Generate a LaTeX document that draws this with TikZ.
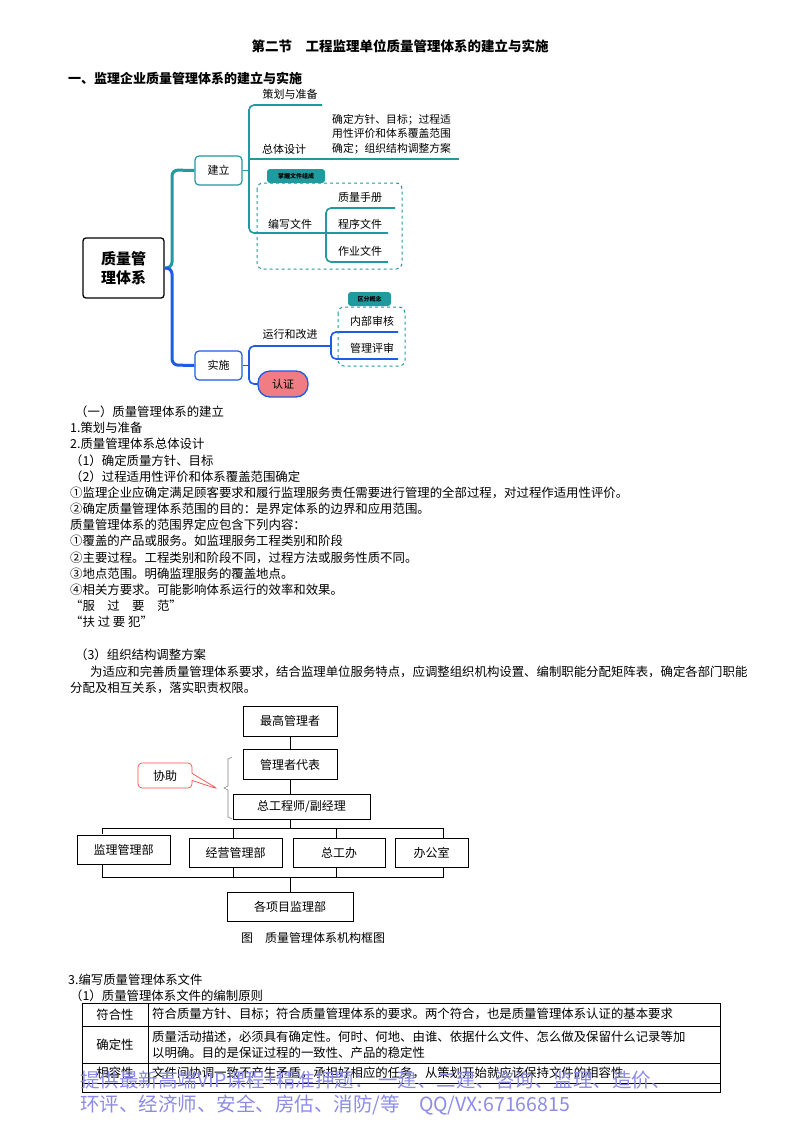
\documentclass[tikz,border=0pt]{standalone}
\usepackage{fontspec}
\setmainfont{Noto Sans CJK SC}
\usetikzlibrary{shapes.callouts,decorations.pathreplacing}
\definecolor{teal1}{HTML}{1F9A9F}
\definecolor{blue1}{HTML}{1E5BE6}
\definecolor{redf}{HTML}{F07C84}
\definecolor{wm}{HTML}{8C8CE6}
\tikzset{
 body/.style={anchor=west,inner sep=0,font=\fontsize{12.4}{14}\selectfont},
 mm/.style={inner sep=0,font=\fontsize{11}{13}\selectfont},
 tl/.style={line width=1.6pt,teal1},
 bl/.style={line width=1.6pt,blue1},
 obox/.style={draw,line width=0.6pt,minimum width=94pt,minimum height=30pt,font=\fontsize{12}{14}\selectfont},
 ol/.style={line width=0.9pt},
 tab/.style={fill=teal1,rounded corners=3pt,inner sep=2pt,font=\fontsize{6}{7}\selectfont\bfseries},
 dbox/.style={draw=teal1,dashed,line width=1pt,rounded corners=6pt},
}
\begin{document}
\begin{tikzpicture}[x=1pt,y=-1pt]
\useasboundingbox (0,0) rectangle (800,1132);
\fill[white] (0,0) rectangle (800,1132);
% titles
\node[inner sep=0,font=\fontsize{13.5}{15}\selectfont\bfseries] (title) at (400,46) {第二节\quad 工程监理单位质量管理体系的建立与实施};
\node[body,font=\fontsize{13}{15}\selectfont\bfseries] (h1) at (68,78) {一、监理企业质量管理体系的建立与实施};
% mind map
\node[draw,line width=1.3pt,rounded corners=3pt,minimum width=81pt,minimum height=60pt,align=center,font=\fontsize{15}{19}\selectfont\bfseries] (root) at (123.5,268) {质量管\\理体系};
\node[draw=teal1,line width=1.2pt,rounded corners=4pt,minimum width=47pt,minimum height=29pt,mm] (jl) at (218.5,170.5) {建立};
\node[draw=blue1,line width=1.2pt,rounded corners=4pt,minimum width=47pt,minimum height=29pt,mm] (ss) at (218.5,365.5) {实施};
\draw[line width=3pt,teal1,rounded corners=6pt] (root.east) -| (172,170) -- (jl.west);
\draw[line width=3pt,blue1,rounded corners=6pt] (root.east) -| (172,365) -- (ss.west);
% jianli branches
\draw[tl] (jl.east) -- (249,170.5);
\draw[tl,rounded corners=5pt] (322,105) -- (249,105) -- (249,233) -- (388,233);
\draw[tl] (249,159) -- (459,159);
\node[mm] (c1) at (290,94) {策划与准备};
\node[mm] (c2) at (284,149) {总体设计};
\node[mm,anchor=west,align=left,font=\fontsize{10.8}{14.5}\selectfont] (c2t) at (332,134) {确定方针、目标；过程适\\用性评价和体系覆盖范围\\确定；组织结构调整方案};
\node[mm] (c3) at (290,224) {编写文件};
\draw[tl,rounded corners=5pt] (395,208) -- (326,208) -- (326,262) -- (388,262);
\node[mm] (d1) at (360,197) {质量手册};
\node[mm] (d2) at (360,224) {程序文件};
\node[mm] (d3) at (360,251) {作业文件};
\draw[dbox] (257,183) rectangle (402,269);
\node[tab,minimum width=58pt,minimum height=14pt] (t1) at (296,176) {掌握文件组成};
% shishi branches
\draw[bl] (ss.east) -- (249,365.5);
\draw[bl,rounded corners=5pt] (330,346) -- (249,346) -- (249,384) -- (258,384);
\node[mm] (e1) at (290,334) {运行和改进};
\draw[bl,rounded corners=5pt] (398,332) -- (331,332) -- (331,359) -- (398,359);
\node[mm] (f1) at (372,321) {内部审核};
\node[mm] (f2) at (372,348) {管理评审};
\draw[dbox] (338,307) rectangle (405,366);
\node[tab,minimum width=43pt,minimum height=14pt] (t2) at (369.5,299) {区分概念};
\node[draw=blue1,fill=redf,line width=1.3pt,rounded corners=12pt,minimum width=50pt,minimum height=26pt,mm] (rz) at (283,384) {认证};
% body text
\node[body] at (75,412) {（一）质量管理体系的建立};
\node[body] at (70,428) {1.策划与准备};
\node[body] at (70,444) {2.质量管理体系总体设计};
\node[body] at (70,461) {（1）确定质量方针、目标};
\node[body] at (70,477) {（2）过程适用性评价和体系覆盖范围确定};
\node[body] at (70,493) {①监理企业应确定满足顾客要求和履行监理服务责任需要进行管理的全部过程，对过程作适用性评价。};
\node[body] at (70,509) {②确定质量管理体系范围的目的：是界定体系的边界和应用范围。};
\node[body] at (70,525) {质量管理体系的范围界定应包含下列内容：};
\node[body] at (70,541) {①覆盖的产品或服务。如监理服务工程类别和阶段};
\node[body] at (70,558) {②主要过程。工程类别和阶段不同，过程方法或服务性质不同。};
\node[body] at (70,574) {③地点范围。明确监理服务的覆盖地点。};
\node[body] at (70,590) {④相关方要求。可能影响体系运行的效率和效果。};
\node[body] at (70,606) {“服\quad 过\quad 要\quad 范”};
\node[body] at (70,622) {“扶\ 过\ 要\ 犯”};
\node[body] at (75,655) {（3）组织结构调整方案};
\node[body] at (90,672) {为适应和完善质量管理体系要求，结合监理单位服务特点，应调整组织机构设置、编制职能分配矩阵表，确定各部门职能};
\node[body] at (70,688) {分配及相互关系，落实职责权限。};
% org chart
\node[obox] (top) at (290,721) {最高管理者};
\node[obox] (rep) at (290,764.5) {管理者代表};
\node[obox,minimum width=137pt,minimum height=25pt] (ce) at (301.5,806.5) {总工程师/副经理};
\node[obox,minimum width=93pt,minimum height=29pt] (o1) at (123.5,849.5) {监理管理部};
\node[obox,minimum width=93pt,minimum height=29pt] (o2) at (235.5,852.5) {经营管理部};
\node[obox,minimum width=92pt,minimum height=29pt] (o3) at (339,852.5) {总工办};
\node[obox,minimum width=73pt,minimum height=29pt] (o4) at (431.5,852.5) {办公室};
\node[obox,minimum width=126pt,minimum height=29pt] (pj) at (290,906.5) {各项目监理部};
\coordinate (bar1) at (290,828);
\coordinate (bar2) at (290,877);
\draw[ol] (top.south) -- (rep.north);
\draw[ol] (rep.south) -- (rep.south |- ce.north);
\draw[ol] (ce.south -| rep.south) -- (bar1);
\draw[ol] (102,834) -- (102,828) -- (443,828) -- (443,838);
\draw[ol] (233,828)--(233,838); \draw[ol] (336,828)--(336,838);
\draw[ol] (102,864) -- (102,877) -- (443,877) -- (443,867);
\draw[ol] (233,867)--(233,877); \draw[ol] (336,867)--(336,877);
\draw[ol] (bar2) -- (pj.north);
\draw[gray,line width=0.6pt] (232,757) -- (228,759) -- (228,786) -- (224,788) -- (228,790) -- (228,817) -- (232,819);
\node[draw=red!70,line width=0.7pt,rounded corners=4pt,rectangle callout,callout absolute pointer={(218,789)},minimum width=54pt,minimum height=25pt,font=\fontsize{12}{14}\selectfont] (xz) at (165,775.5) {协助};
\node[inner sep=0,font=\fontsize{12}{14}\selectfont] (cap) at (313,938) {图\quad 质量管理体系机构框图};
% table
\node[body] at (68,980) {3.编写质量管理体系文件};
\node[body] at (70,996) {（1）质量管理体系文件的编制原则};
\draw[line width=1pt] (82,1003) rectangle (720,1092);
\draw[line width=0.8pt] (82,1026)--(720,1026) (82,1063)--(720,1063) (82,1083)--(720,1083);
\draw[line width=0.8pt] (148,1003)--(148,1083);
\node[inner sep=0,font=\fontsize{12.4}{14}\selectfont] at (115,1014.5) {符合性};
\node[inner sep=0,font=\fontsize{12.4}{14}\selectfont] at (115,1044.5) {确定性};
\node[inner sep=0,font=\fontsize{12.4}{14}\selectfont] at (115,1073) {相容性};
\node[body] at (152,1014.5) {符合质量方针、目标；符合质量管理体系的要求。两个符合，也是质量管理体系认证的基本要求};
\node[body,align=left,font=\fontsize{12.4}{16}\selectfont] at (152,1044.5) {质量活动描述，必须具有确定性。何时、何地、由谁、依据什么文件、怎么做及保留什么记录等加\\以明确。目的是保证过程的一致性、产品的稳定性};
\node[body] at (152,1073) {文件间协调一致不产生矛盾，承担好相应的任务，从策划开始就应该保持文件的相容性};
% watermark text
\node[body,text=wm,font=\fontsize{19.5}{22}\selectfont] at (80,1080) {提供最新高端VIP课程+精准押题：\ 一建、二建、咨询、监理、造价、};
\node[body,text=wm,font=\fontsize{19.5}{22}\selectfont] at (80,1105) {环评、经济师、安全、房估、消防/等\quad QQ/VX:67166815};
\end{tikzpicture}
\end{document}
